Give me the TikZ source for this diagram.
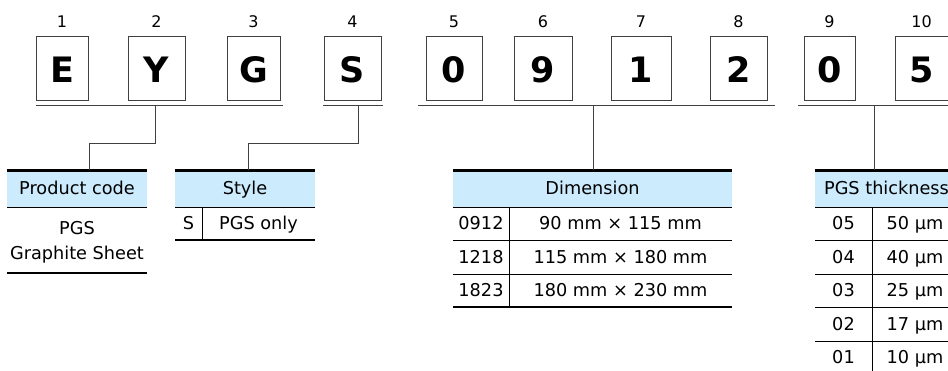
\documentclass[tikz,border=0pt]{standalone}
\usepackage{fontspec}
\setmainfont{DejaVu Sans}
\definecolor{HeadBlue}{HTML}{CCEBFC}
\definecolor{BoxGray}{HTML}{404040}
\tikzset{
    letterbox/.style={rectangle, draw=BoxGray, line width=1pt,
                minimum height = 64pt, inner sep = 0},
    letterstyle/.style={anchor=center, font=\fontsize{35}{35}\selectfont\bfseries, yshift=-2pt},
    posstyle/.style={anchor=center, font=\fontsize{16}{16}\selectfont},
    %
    headstyle/.style={rectangle, fill=HeadBlue, minimum height = 37pt, inner sep = 0,
                text height=12.5pt, text depth=0pt, font=\fontsize{17.7}{17.7}\selectfont},
    cellstyle/.style={anchor=center, inner sep = 0, text height=12.5pt, text depth=0pt,
                font=\fontsize{17.7}{17.7}\selectfont},
    %
    thickrule/.style={line width=2.5pt},
    thinrule/.style={line width=1pt},
    underline/.style={draw=BoxGray, line width=1pt},
    link/.style={draw=BoxGray, line width=1pt},
}
\newcommand{\codeLetter}[5]{%
    \node[letterbox, minimum width = #3pt] (#1) at (#2,68) {};
    \node[letterstyle] (#1-l) at (#1.center) {#4};
    \node[posstyle] (#1-p) at (#2,22) {#5};
}
\newcommand{\tableRow}[6]{%
    \node[cellstyle] (#1-a) at (#2,#4) {#5};
    \node[cellstyle] (#1-b) at (#3,#4) {#6};
}

\begin{document}
\begin{tikzpicture}[x=1pt, y=-1pt]
        \useasboundingbox (0,0) rectangle (948,370);
        \clip (0,0) rectangle (948,370);
        %
        % Code letters
        \codeLetter{C1}{62}{52}{E}{1}
        \codeLetter{C2}{156.5}{57}{Y}{2}
        \codeLetter{C3}{253.5}{53}{G}{3}
        \codeLetter{C4}{352.5}{57}{S}{4}
        \codeLetter{C5}{454}{56}{0}{5}
        \codeLetter{C6}{543}{58}{9}{6}
        \codeLetter{C7}{641}{60}{1}{7}
        \codeLetter{C8}{738.5}{57}{2}{8}
        \codeLetter{C9}{829.5}{51}{0}{9}
        \codeLetter{C10}{921.5}{53}{5}{10}
        %
        % Underlines
        \draw[underline] (36,105) -- (283,105);
        \draw[underline] (323,105) -- (383,105);
        \draw[underline] (418,105) -- (775,105);
        \draw[underline] (798,105) -- (948,105);
        \coordinate (U1) at (155,105);
        \coordinate (U2) at (358,105);
        \coordinate (U3) at (593,105);
        \coordinate (U4) at (874,105);
        %
        %
        % Product code
        \node[headstyle, minimum width = 140pt] (Hcode) at (77,188.5) {Product code};
        \node[cellstyle] (Bcode-a) at (77,228) {PGS};
        \node[cellstyle] (Bcode-b) at (77,253) {Graphite Sheet};
        \draw[thickrule] (7,170.5) -- (147,170.5);
        \draw[thinrule] (7,207) -- (147,207);
        \draw[thickrule] (7,273) -- (147,273);
        \draw[link] (U1) -- ++(0,38) -| ([xshift=12pt]Hcode.north);
        %
        % Style
        \node[headstyle, minimum width = 140pt] (Hstyle) at (245,188.5) {Style};
        \tableRow{Sty1}{188.5}{258.5}{223.5}{S}{PGS only}
        \draw[thickrule] (175,170.5) -- (315,170.5);
        \draw[thinrule] (175,207) -- (315,207);
        \draw[thinrule] (202,207) -- (202,240);
        \draw[thickrule] (175,240) -- (315,240);
        \draw[link] (U2) -- ++(0,38) -| ([xshift=3pt]Hstyle.north);
        %
        % Dimension
        \node[headstyle, minimum width = 279pt] (Hdim) at (592.5,188.5) {Dimension};
        \tableRow{Dim1}{481}{620.5}{223.5}{0912}{90 mm × 115 mm}
        \tableRow{Dim2}{481}{620.5}{257}{1218}{115 mm × 180 mm}
        \tableRow{Dim3}{481}{620.5}{290.5}{1823}{180 mm × 230 mm}
        \draw[thickrule] (453,170.5) -- (732,170.5);
        \foreach \y in {207,240,274}
            \draw[thinrule] (453,\y) -- (732,\y);
        \draw[thinrule] (509,207) -- (509,307);
        \draw[thickrule] (453,307) -- (732,307);
        \draw[link] (U3) -- (U3 |- Hdim.north);
        %
        % PGS thickness
        \node[headstyle, minimum width = 143pt] (Hthick) at (886.5,188.5) {PGS thickness};
        \tableRow{Thk1}{843.5}{915}{223.5}{05}{50 µm}
        \tableRow{Thk2}{843.5}{915}{257}{04}{40 µm}
        \tableRow{Thk3}{843.5}{915}{290.5}{03}{25 µm}
        \tableRow{Thk4}{843.5}{915}{324}{02}{17 µm}
        \tableRow{Thk5}{843.5}{915}{357.5}{01}{10 µm}
        \draw[thickrule] (815,170.5) -- (958,170.5);
        \foreach \y in {207,240,274,307,341}
            \draw[thinrule] (815,\y) -- (958,\y);
        \draw[thinrule] (872,207) -- (872,375);
        \draw[link] (U4) -- (U4 |- Hthick.north);
\end{tikzpicture}
\end{document}
